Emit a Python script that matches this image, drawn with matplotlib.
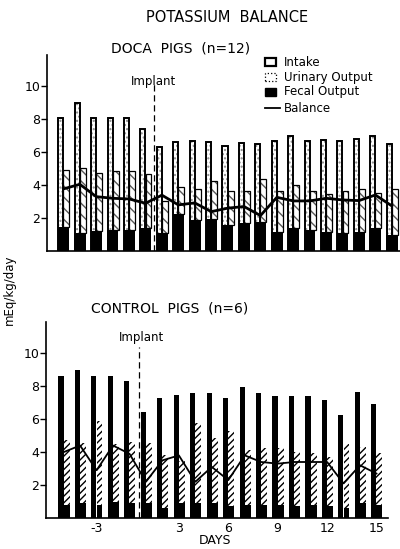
import matplotlib
matplotlib.use("Agg")
import matplotlib.pyplot as plt
from matplotlib.patches import Rectangle
from matplotlib.lines import Line2D
import numpy as np

# ---------------- data ----------------
# DOCA pigs (21 day groups)
doca_intake = [8.1, 9.0, 8.1, 8.1, 8.1, 7.4, 6.3, 6.6, 6.7, 6.6, 6.4, 6.55, 6.5, 6.7,
               7.0, 6.65, 6.75, 6.65, 6.8, 7.0, 6.5]
doca_fecal = [1.44, 1.1, 1.22, 1.28, 1.25, 1.38, 1.11, 2.25, 1.9, 1.93, 1.58, 1.68, 1.78,
              1.17, 1.38, 1.28, 1.17, 1.07, 1.17, 1.38, 0.97]
doca_urinary = [3.48, 3.93, 3.54, 3.58, 3.63, 3.28, 1.93, 1.62, 1.87, 2.34, 2.09, 1.99, 2.6,
                2.5, 2.63, 2.37, 2.27, 2.6, 2.6, 2.16, 2.8]
doca_balance = [3.77, 4.05, 3.3, 3.2, 3.16, 2.9, 3.39, 2.8, 2.92, 2.39, 2.6, 2.7, 2.15,
                3.26, 3.04, 3.04, 3.2, 3.1, 3.06, 3.4, 2.74]

# Control pigs (20 day groups)
ctrl_intake = [8.6, 8.97, 8.6, 8.6, 8.3, 6.44, 7.29, 7.45, 7.6, 7.6, 7.3, 7.96, 7.56, 7.41,
               7.41, 7.41, 7.19, 6.28, 7.66, 6.95]
ctrl_fecal = [0.8, 0.9, 0.8, 1.0, 0.9, 0.9, 0.6, 0.9, 0.9, 0.9, 0.7, 0.8, 0.8, 0.8, 0.7,
              0.8, 0.7, 0.6, 0.9, 0.8]
ctrl_urinary = [3.93, 3.66, 5.08, 3.48, 3.7, 3.68, 3.22, 2.55, 4.88, 3.93, 4.57, 3.32, 3.42,
                3.42, 3.32, 3.16, 2.98, 3.92, 3.42, 3.12]
ctrl_balance = [4.0, 4.4, 2.9, 4.4, 3.9, 2.2, 3.5, 3.8, 2.2, 3.1, 2.3, 3.8, 3.4, 3.3, 3.4,
                3.4, 3.4, 2.1, 3.2, 2.7]

day_tick_groups = [2, 7, 10, 13, 16, 19]
day_tick_labels = ["-3", "3", "6", "9", "12", "15"]
y_ticks = [2, 4, 6, 8, 10]
doca_implant_after = 5.5
ctrl_implant_after = 4.6

# ---------------- figure ----------------
W, H = 400, 549
fig = plt.figure(figsize=(W / 100, H / 100), dpi=100)
plt.rcParams['hatch.linewidth'] = 1.0


def px_axes(l, r, top, bottom):
    return fig.add_axes([l / W, 1 - bottom / H, (r - l) / W, (bottom - top) / H])


def draw_panel(ax, intake, fecal, urinary, balance, top_style, implant_x, xlim, lw_bal):
    n = len(intake)
    x = np.arange(n)
    if top_style:
        ax.bar(x - 0.16, intake, width=0.31, color="white", edgecolor="0.55",
               hatch="....", linewidth=0, zorder=2)
        ax.bar(x - 0.16, intake, width=0.31, color="none", edgecolor="black",
               linewidth=1.4, zorder=3)
        ax.bar(x + 0.18, urinary, width=0.36, bottom=fecal, color="white",
               edgecolor="0.35", hatch="\\\\\\", linewidth=0, zorder=2)
        ax.bar(x + 0.18, urinary, width=0.36, bottom=fecal, color="none",
               edgecolor="black", linewidth=0.9, zorder=3)
        ax.bar(x + 0.01, fecal, width=0.68, color="black", linewidth=0, zorder=4)
    else:
        ax.bar(x - 0.16, intake, width=0.31, color="black", linewidth=0, zorder=2)
        ax.bar(x + 0.18, urinary, width=0.36, bottom=fecal, color="white",
               edgecolor="black", hatch="/////", linewidth=0, zorder=3)
        ax.bar(x + 0.18, fecal, width=0.36, color="black", linewidth=0, zorder=3)
    ax.plot(x, balance, color="black", linewidth=lw_bal, zorder=6)
    ax.axvline(implant_x, ymin=0, ymax=0.86 if top_style else 0.87, color="black",
               linestyle=(0, (5, 3)), linewidth=0.9, zorder=7)
    ax.set_xlim(*xlim)
    ax.set_ylim(0, 11.9)
    ax.set_yticks(y_ticks)
    ax.set_yticklabels([str(v) for v in y_ticks], fontsize=9)
    ax.tick_params(axis="y", direction="out", length=4, width=1, pad=1)
    for s in ("top", "right"):
        ax.spines[s].set_visible(False)
    ax.spines["left"].set_linewidth(1.2)
    ax.spines["bottom"].set_linewidth(1.2)


# top panel
ax1 = px_axes(47, 400, 55, 251)
draw_panel(ax1, doca_intake, doca_fecal, doca_urinary, doca_balance, True,
           doca_implant_after, (-1.0, 20.5), 2.0)
ax1.set_xticks([])

# bottom panel
ax2 = px_axes(46, 388, 322, 518)
draw_panel(ax2, ctrl_intake, ctrl_fecal, ctrl_urinary, ctrl_balance, False,
           ctrl_implant_after, (-1.07, 19.7), 1.3)
ax2.set_xticks(day_tick_groups)
ax2.set_xticklabels(day_tick_labels, fontsize=9)
ax2.tick_params(axis="x", length=0, pad=3)


def ftext(x, y, s, **kw):
    fig.text(x / W, 1 - y / H, s, **kw)


ftext(227, 17, "POTASSIUM  BALANCE", fontsize=10.5, ha="center", va="center")
ftext(181, 48, "DOCA  PIGS  (n=12)", fontsize=10, ha="center", va="center")
ftext(170, 308, "CONTROL  PIGS  (n=6)", fontsize=10, ha="center", va="center")
ftext(154, 82, "Implant", fontsize=8.5, ha="center", va="center")
ftext(141, 338, "Implant", fontsize=8.5, ha="center", va="center")
ftext(215, 541, "DAYS", fontsize=9, ha="center", va="center")
ftext(9, 290, "mEq/kg/day", fontsize=8.5, ha="center", va="center", rotation=90)

# legend
leg_items = [("Intake", 62), ("Urinary Output", 77), ("Fecal Output", 92)]
for (label, yc) in leg_items:
    if label == "Intake":
        r = Rectangle((265 / W, 1 - (yc + 4) / H), 11 / W, 8 / H, transform=fig.transFigure,
                      facecolor="white", edgecolor="black", linewidth=1.6)
    elif label == "Urinary Output":
        r = Rectangle((265 / W, 1 - (yc + 4) / H), 11 / W, 8 / H, transform=fig.transFigure,
                      facecolor="white", edgecolor="black", linewidth=0.9, linestyle=":")
    else:
        r = Rectangle((265 / W, 1 - (yc + 4) / H), 11 / W, 8 / H, transform=fig.transFigure,
                      facecolor="black", edgecolor="black", linewidth=1)
    fig.add_artist(r)
    ftext(284, yc, label, fontsize=8.5, ha="left", va="center")
fig.add_artist(Line2D([265 / W, 280 / W], [1 - 108 / H, 1 - 108 / H],
                      transform=fig.transFigure, color="black", linewidth=1.3))
ftext(284, 108, "Balance", fontsize=8.5, ha="left", va="center")

fig.savefig("out.png", dpi=100)
